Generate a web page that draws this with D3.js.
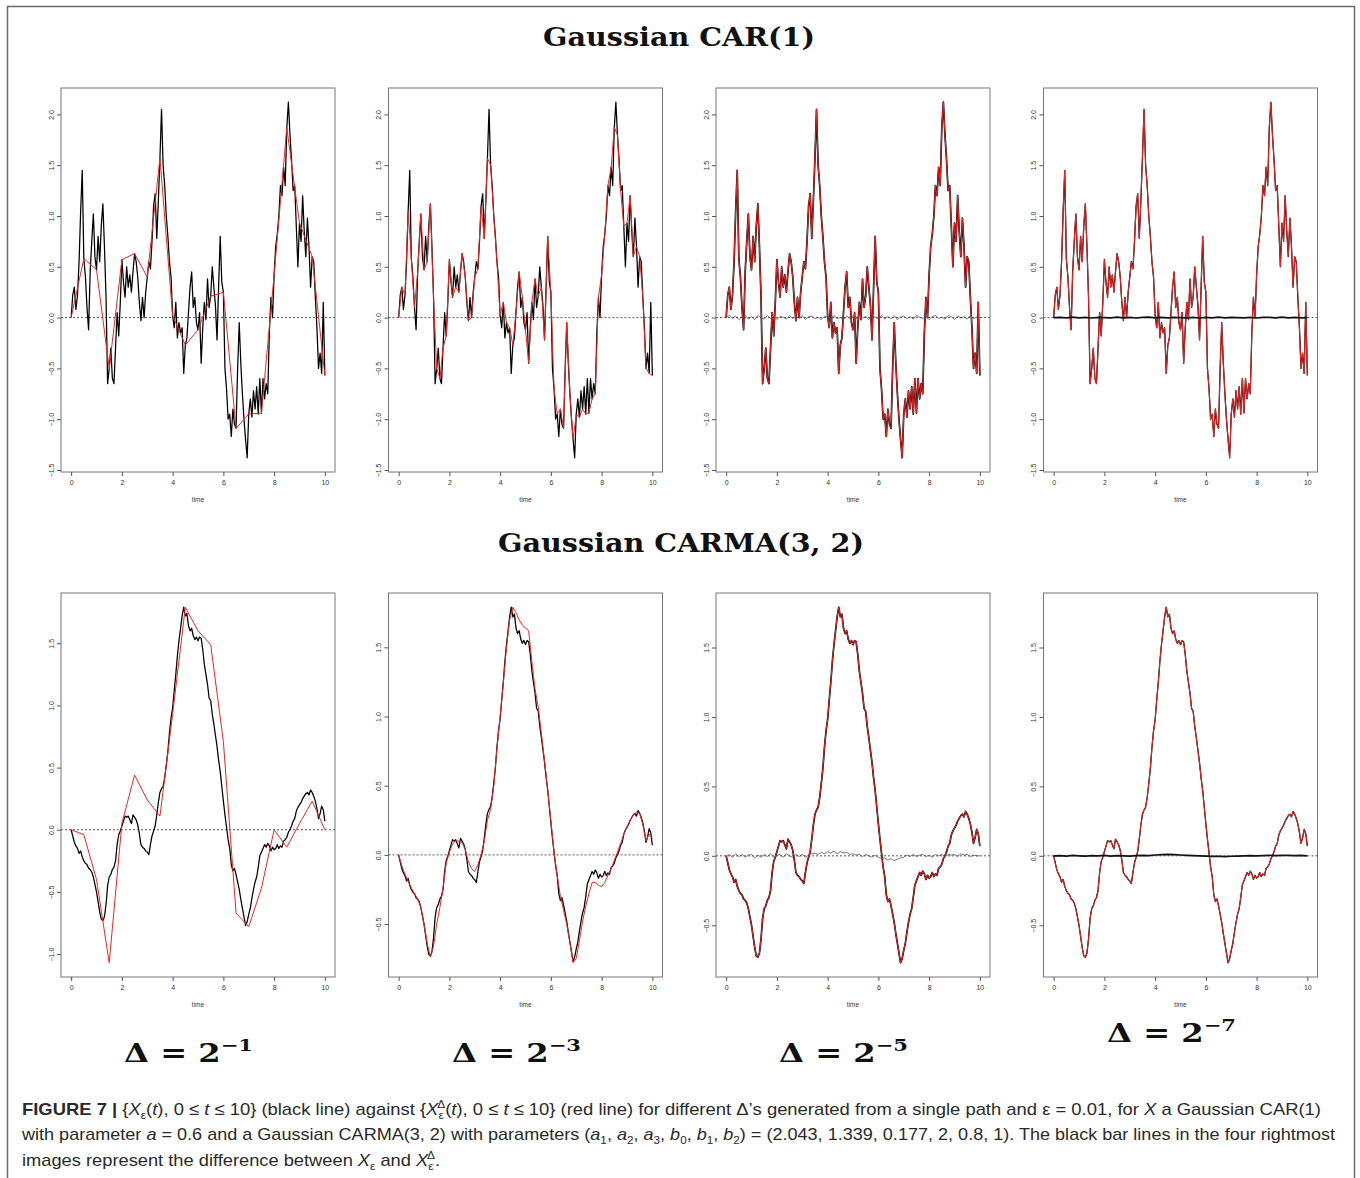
<!DOCTYPE html>
<html>
<head>
<meta charset="utf-8">
<script src="https://cdn.jsdelivr.net/npm/d3@7"></script>
<style>
  html, body { margin: 0; padding: 0; background: #fff; }
  svg { display: block; }
</style>
</head>
<body>
<svg id="fig" width="1360" height="1178"></svg>
<script>
var carBlack = [
  0.0, 0.22, 0.3, 0.08, 0.22, 0.55, 1.05, 1.45, 0.58, 0.4, 0.1, -0.12, 0.45, 0.75, 1.02, 0.6,
  0.47, 0.8, 0.55, 0.9, 1.12, 0.7, 0.2, -0.65, -0.5, -0.3, -0.6, -0.65, -0.3, 0.05, -0.18, 0.15,
  0.57, 0.35, 0.2, 0.5, 0.3, 0.42, 0.25, 0.45, 0.63, 0.55, 0.4, 0.15, -0.03, 0.2, 0.0, 0.25,
  0.4, 0.55, 0.48, 0.75, 1.1, 1.22, 0.78, 1.15, 1.57, 2.05, 1.5, 1.3, 1.0, 0.8, 0.55, 0.4,
  0.02, -0.1, 0.15, -0.2, -0.05, -0.15, -0.1, -0.55, -0.27, -0.2, 0.05, 0.3, 0.45, 0.1, 0.2, -0.05,
  -0.12, 0.05, -0.45, -0.1, 0.15, -0.02, 0.38, 0.1, 0.21, 0.5, 0.3, 0.12, -0.22, 0.3, 0.8, 0.35,
  0.25, -0.5, -0.7, -1.0, -0.95, -1.17, -0.9, -1.05, -1.09, -0.5, -0.05, -0.45, -0.75, -1.0, -1.2, -1.38,
  -0.95, -0.8, -0.98, -0.72, -0.9, -0.68, -0.95, -0.6, -0.94, -0.6, -0.8, -0.65, -0.75, -0.15, 0.2, 0.0,
  0.42, 0.7, 0.82, 1.0, 1.3, 1.2, 1.48, 1.3, 1.87, 2.12, 1.8, 1.55, 1.25, 1.3, 0.9, 0.5,
  0.93, 0.75, 1.2, 0.85, 0.6, 0.98, 0.7, 0.3, 0.6, 0.55, 0.2, -0.1, -0.5, -0.35, -0.55, 0.15, -0.57
]
// red line for delta = 2^-1 (step 0.5)
var carRedHalf = [0.0, 0.58, 0.47, -0.5, 0.57, 0.63, 0.4, 1.57, 0.02, -0.27, -0.12,
  0.21, 0.25, -1.09, -0.95, -0.94, 0.42, 1.87, 0.93, 0.6, -0.57]
// difference X - X^delta, step 1/8
var carDiff5 = [
  0, 0.02, -0.01, 0.015, -0.02, 0.01, 0.025, -0.015, 0.01, -0.02, 0.02, 0.0, -0.015, 0.02, -0.01, 0.015,
  -0.02, 0.01, 0.005, -0.015, 0.02, -0.01, 0.015, -0.005, 0.02, -0.02, 0.01, 0.015, -0.01, 0.005, -0.02, 0.015,
  0.01, -0.015, 0.02, -0.01, 0.0, -0.02, 0.015, -0.01, 0.01, -0.015, 0.02, -0.005, 0.01, -0.02, 0.015, 0.005,
  -0.01, 0.02, -0.015, 0.01, -0.01, 0.02, -0.02, 0.005, 0.015, -0.01, 0.01, -0.015, 0.02, 0.005, -0.01, 0.015,
  -0.02, 0.01, 0.02, -0.01, 0.005, -0.015, 0.02, 0.01, -0.02, 0.015, -0.005, 0.01, -0.015, 0.02, -0.01, 0.005, 0
]
// step 1/4
var carDiff7 = [0, 0.003, -0.002, 0.004, -0.003, 0.002, -0.004, 0.003, 0, -0.003, 0.004, -0.002, 0.003, -0.004,
  0.002, 0.004, -0.003, 0.002, -0.002, 0.003, 0, -0.003, 0.002, -0.004, 0.003, -0.002, 0.004, -0.003, 0.002,
  0, -0.002, 0.003, -0.004, 0.002, 0.003, -0.002, 0.004, -0.003, 0.002, -0.002, 0]

var carmaBlack = [
  0, -0.05, -0.1, -0.13, -0.15, -0.19, -0.17, -0.22, -0.25, -0.27, -0.28, -0.31, -0.32, -0.34, -0.38, -0.44,
  -0.5, -0.58, -0.66, -0.72, -0.73, -0.7, -0.6, -0.45, -0.38, -0.36, -0.32, -0.3, -0.25, -0.12, -0.04, -0.01,
  0.03, 0.07, 0.11, 0.1, 0.11, 0.08, 0.05, 0.12, 0.1, 0.08, 0.04, -0.03, -0.12, -0.14, -0.15, -0.17,
  -0.18, -0.2, -0.12, -0.05, -0.01, 0.03, 0.12, 0.22, 0.3, 0.33, 0.35, 0.42, 0.52, 0.63, 0.78, 0.9,
  0.98, 1.12, 1.25, 1.4, 1.52, 1.62, 1.72, 1.79, 1.72, 1.74, 1.64, 1.6, 1.62, 1.56, 1.53, 1.55,
  1.52, 1.55, 1.54, 1.45, 1.33, 1.25, 1.17, 1.06, 1.04, 0.93, 0.85, 0.76, 0.67, 0.56, 0.47, 0.35,
  0.23, 0.12, 0.02, -0.08, -0.15, -0.28, -0.33, -0.31, -0.36, -0.42, -0.48, -0.56, -0.63, -0.7, -0.77, -0.74,
  -0.68, -0.63, -0.55, -0.48, -0.42, -0.38, -0.3, -0.21, -0.18, -0.15, -0.12, -0.14, -0.11, -0.13, -0.17, -0.14,
  -0.16, -0.15, -0.12, -0.15, -0.13, -0.14, -0.09, -0.08, -0.06, -0.02, 0.0, 0.03, 0.07, 0.09, 0.15, 0.18,
  0.2, 0.22, 0.25, 0.27, 0.29, 0.3, 0.28, 0.32, 0.3, 0.27, 0.23, 0.17, 0.09, 0.13, 0.19, 0.16, 0.07
]
var carmaRedHalf = [0, -0.04, -0.4, -1.07, 0.05, 0.44, 0.24, 0.11, 0.93, 1.79, 1.6,
  1.49, 0.71, -0.67, -0.78, -0.47, 0.0, -0.14, 0.05, 0.23, 0.0]
// red line for delta = 2^-3 (step 1/8)
var carmaRedEighth = [
  0, -0.08, -0.14, -0.19, -0.24, -0.28, -0.32, -0.38,
  -0.5, -0.64, -0.74, -0.66, -0.5, -0.38, -0.24, -0.06,
  0.02, 0.08, 0.1, 0.1, 0.09, 0.04, -0.05, -0.1,
  -0.12, -0.07, 0.0, 0.1, 0.25, 0.33, 0.5, 0.77,
  1.0, 1.24, 1.5, 1.7, 1.79, 1.75, 1.7, 1.66,
  1.64, 1.62, 1.4, 1.2, 1.07, 0.88, 0.68, 0.47,
  0.25, 0.02, -0.15, -0.3, -0.4, -0.5, -0.63, -0.78,
  -0.75, -0.62, -0.48, -0.37, -0.28, -0.2, -0.2, -0.22,
  -0.23, -0.2, -0.15, -0.1, -0.04, 0.02, 0.08, 0.15,
  0.2, 0.25, 0.29, 0.31, 0.3, 0.22, 0.1, 0.15, 0.12
]
var carmaDiff5 = [
  0, 0.01, -0.01, 0.015, -0.005, 0.01, -0.01, 0.005,
  0.01, -0.015, 0.005, -0.01, 0.01, -0.005, 0.015, -0.01,
  0.005, 0.01, -0.01, 0.015, 0.0, -0.01, 0.01, -0.005,
  0.01, -0.01, 0.005, 0.015, 0.02, 0.01, 0.025, 0.015,
  0.03, 0.02, 0.035, 0.015, 0.03, 0.02, 0.025, 0.01,
  0.015, 0.005, 0.01, -0.005, 0.01, 0.0, -0.01, 0.005,
  -0.01, -0.02, -0.015, -0.03, -0.02, -0.035, -0.025, -0.015,
  -0.01, 0.005, -0.005, 0.01, -0.005, 0.005, 0.01, -0.005,
  0.005, -0.01, 0.01, 0.0, 0.01, -0.005, 0.01, 0.005,
  0.01, -0.005, 0.015, 0.005, 0.01, -0.005, 0.005, 0.0, 0
]
var carmaDiff7 = [0, 0.002, -0.002, 0.003, 0, -0.002, 0.002, 0, 0.003, -0.002, 0.002, 0, -0.002, 0.002,
  0.004, 0.002, 0.006, 0.008, 0.01, 0.008, 0.006, 0.004, 0.002, 0, -0.002, -0.004, -0.003, -0.005, -0.003,
  -0.002, 0, 0.002, 0, 0.002, 0.003, 0.002, 0.003, 0.004, 0.002, 0.003, 0]

var xTicks = [0, 2, 4, 6, 8, 10]
var carYTicks = [-1.5, -1, -0.5, 0, 0.5, 1, 1.5, 2]
var carmaYTicksWide = [-1, -0.5, 0, 0.5, 1, 1.5]
var carmaYTicks = [-0.5, 0, 0.5, 1, 1.5]
var deltaExps = ['\u22121', '\u22123', '\u22125', '\u22127']

var everyOther = function (arr) {
  return arr.filter(function (d, i) { return i % 2 === 0 })
}

var rows = [
  {
    title: 'Gaussian CAR(1)',
    black: carBlack,
    reds: [carRedHalf, everyOther(carBlack), carBlack, carBlack],
    diffs: [null, null, carDiff5, carDiff7],
    yTicks: [carYTicks, carYTicks, carYTicks, carYTicks]
  },
  {
    title: 'Gaussian CARMA(3, 2)',
    black: carmaBlack,
    reds: [carmaRedHalf, carmaRedEighth, carmaBlack, carmaBlack],
    diffs: [null, null, carmaDiff5, carmaDiff7],
    yTicks: [carmaYTicksWide, carmaYTicks, carmaYTicks, carmaYTicks]
  }
]

var svg = d3.select('#fig')
var boxW = 274
var boxH = 384
var panelLefts = [61, 388.5, 716, 1043.5]
var rowTops = [88, 593]
var titleY = [46, 552]
var titleX = [[543, 272], [498, 366]]
var tickFont = "'Liberation Sans', Arial, sans-serif"
var serif = "'DejaVu Serif', 'Liberation Serif', serif"

// outer figure frame (open at the bottom)
svg.append('path')
  .attr('d', 'M7.5,1180V6.5H1354.5V1180')
  .attr('fill', 'none')
  .attr('stroke', '#6a6a6a')
  .attr('stroke-width', 1.5)

var toPoints = function (arr) {
  return arr.map(function (v, i) { return [i * 10 / (arr.length - 1), v] })
}

function drawPanel (left, top, row, k) {
  var g = svg.append('g')
  var black = row.black
  var red = row.reds[k]
  var diff = row.diffs[k]

  // R style: 4% padding on the data range
  var ext = d3.extent(black.concat(red))
  var pad = (ext[1] - ext[0]) * 0.04
  var x = d3.scaleLinear().domain([-0.4, 10.4]).range([left, left + boxW])
  var y = d3.scaleLinear().domain([ext[0] - pad, ext[1] + pad]).range([top + boxH, top])

  var line = d3.line()
    .x(function (d) { return x(d[0]) })
    .y(function (d) { return y(d[1]) })

  g.append('line')
    .attr('x1', left).attr('x2', left + boxW)
    .attr('y1', y(0)).attr('y2', y(0))
    .attr('stroke', '#555')
    .attr('stroke-dasharray', '2,2')

  g.append('path')
    .attr('d', line(toPoints(black)))
    .attr('fill', 'none')
    .attr('stroke', '#000')
    .attr('stroke-width', k === 2 ? 1.7 : (k === 3 ? 1.3 : 1.25))
    .attr('stroke-linejoin', 'round')

  g.append('path')
    .attr('d', line(toPoints(red)))
    .attr('fill', 'none')
    .attr('stroke', '#f02424')
    .attr('stroke-width', 1)
    .attr('stroke-linejoin', 'round')

  if (diff) {
    g.append('path')
      .attr('d', line(toPoints(diff)))
      .attr('fill', 'none')
      .attr('stroke', k === 3 ? '#111' : '#555')
      .attr('stroke-width', k === 3 ? 1.7 : 0.8)
  }

  g.append('rect')
    .attr('x', left).attr('y', top)
    .attr('width', boxW).attr('height', boxH)
    .attr('fill', 'none')
    .attr('stroke', '#777')

  var xAxis = g.append('g')
    .attr('transform', 'translate(0,' + (top + boxH) + ')')
    .call(d3.axisBottom(x).tickValues(xTicks).tickSize(4).tickPadding(4).tickFormat(d3.format('d')))
  var yAxis = g.append('g')
    .attr('transform', 'translate(' + left + ',0)')
    .call(d3.axisLeft(y).tickValues(row.yTicks[k]).tickSize(4).tickFormat(d3.format('.1f')))

  ;[xAxis, yAxis].forEach(function (a) {
    a.select('.domain').remove()
    a.selectAll('line').attr('stroke', '#555')
    a.selectAll('text')
      .attr('font-family', tickFont)
      .attr('font-size', 7)
      .attr('fill', '#333')
  })
  // rotated y labels, like R's las = 0
  yAxis.selectAll('text')
    .attr('x', 0).attr('y', -7.5).attr('dy', 0)
    .attr('text-anchor', 'middle')
    .attr('transform', 'rotate(-90)')

  g.append('text')
    .attr('x', left + boxW / 2)
    .attr('y', top + boxH + 30)
    .attr('text-anchor', 'middle')
    .attr('font-family', tickFont)
    .attr('font-size', 6.5)
    .attr('fill', '#333')
    .text('time')
}

rows.forEach(function (row, r) {
  svg.append('text')
    .attr('x', titleX[r][0])
    .attr('y', titleY[r])
    .attr('font-family', serif)
    .attr('font-weight', 'bold')
    .attr('font-size', 26)
    .attr('textLength', titleX[r][1])
    .attr('lengthAdjust', 'spacingAndGlyphs')
    .attr('fill', '#111')
    .text(row.title)
  panelLefts.forEach(function (left, k) {
    drawPanel(left, rowTops[r], row, k)
  })
})

// delta labels under the bottom row
var deltaPos = [[124, 1062], [452, 1062], [779, 1062], [1107, 1042]]
deltaExps.forEach(function (e, i) {
  var t = svg.append('text')
    .attr('x', deltaPos[i][0])
    .attr('y', deltaPos[i][1])
    .attr('font-family', serif)
    .attr('font-weight', 'bold')
    .attr('font-size', 26)
    .attr('fill', '#111')
    .attr('textLength', 129)
    .attr('lengthAdjust', 'spacingAndGlyphs')
    .style('white-space', 'pre')
  t.append('tspan').text('\u0394 = 2')
  t.append('tspan').text(e).attr('font-size', 17).attr('dy', -11)
})

// caption
var captionFont = "'Liberation Sans Narrow', 'Liberation Sans', Arial, sans-serif"
var captionLines = [
  [['FIGURE 7 | ', 'b'], ['{', 'n'], ['X', 'i'], ['\u03b5', 'sub'], ['(', 'n'], ['t', 'i'], ['), 0 \u2264 ', 'n'],
    ['t', 'i'], [' \u2264 10} (black line) against {', 'n'], ['X', 'i'], ['\u03b5', 'sub'], ['\u0394', 'sup'],
    ['(', 'n'], ['t', 'i'], ['), 0 \u2264 ', 'n'], ['t', 'i'],
    [' \u2264 10} (red line) for different \u0394\u2019s generated from a single path and \u03b5 = 0.01, for ', 'n'],
    ['X', 'i'], [' a Gaussian CAR(1)', 'n']],
  [['with parameter ', 'n'], ['a', 'i'], [' = 0.6 and a Gaussian CARMA(3, 2) with parameters (', 'n'],
    ['a', 'i'], ['1', 'sub'], [', ', 'n'], ['a', 'i'], ['2', 'sub'], [', ', 'n'], ['a', 'i'], ['3', 'sub'],
    [', ', 'n'], ['b', 'i'], ['0', 'sub'], [', ', 'n'], ['b', 'i'], ['1', 'sub'], [', ', 'n'], ['b', 'i'], ['2', 'sub'],
    [') = (2.043, 1.339, 0.177, 2, 0.8, 1). The black bar lines in the four rightmost', 'n']],
  [['images represent the difference between ', 'n'], ['X', 'i'], ['\u03b5', 'sub'], [' and ', 'n'],
    ['X', 'i'], ['\u03b5', 'sub'], ['\u0394', 'sup'], ['.', 'n']]
]
var captionY = [1115, 1140, 1166]
var captionLen = [1299, 1313, 418]

captionLines.forEach(function (segs, li) {
  var text = svg.append('text')
    .attr('x', 22)
    .attr('y', captionY[li])
    .attr('font-family', captionFont)
    .attr('font-size', 17)
    .attr('fill', '#2a2a2a')
    .attr('textLength', captionLen[li])
    .attr('lengthAdjust', 'spacingAndGlyphs')
    .style('white-space', 'pre')
  var shift = 0
  segs.forEach(function (s) {
    var kind = s[1]
    var target = kind === 'sub' ? 4 : (kind === 'sup' ? -7 : 0)
    var t = text.append('tspan').text(s[0]).attr('dy', target - shift)
    shift = target
    if (kind === 'b') t.attr('font-weight', 'bold')
    if (kind === 'i') t.attr('font-style', 'italic')
    if (kind === 'sub' || kind === 'sup') t.attr('font-size', 11)
    if (kind === 'sup') t.attr('dx', -6) // stack over the subscript
  })
})
</script>
</body>
</html>
